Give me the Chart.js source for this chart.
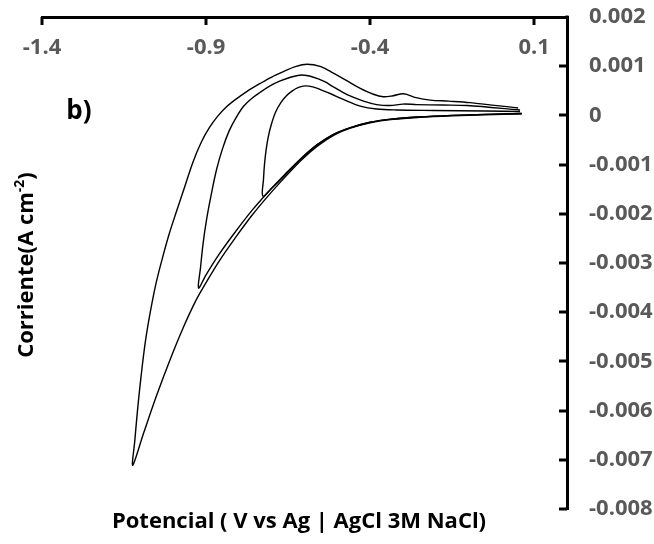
<!DOCTYPE html>
<html>
<head>
<meta charset="utf-8">
<title>Voltametría cíclica b)</title>
<script src="https://cdn.jsdelivr.net/npm/chart.js@4.4.0/dist/chart.umd.min.js"></script>
<style>
    html, body { margin: 0; padding: 0; background: #fff; }
    #chartBox { width: 654px; height: 544px; position: relative; }
</style>
</head>
<body>
<div id="chartBox"><canvas id="cvChart" width="654" height="544"></canvas></div>
<script>
/* =========================
   DATA
========================= */

const xTicks = [-1.4, -0.9, -0.4, 0.1];
const xTickLabels = ['-1.4', '-0.9', '-0.4', '0.1'];

const yTicks = [-0.008, -0.007, -0.006, -0.005, -0.004, -0.003, -0.002, -0.001, 0, 0.001, 0.002];
const yTickLabels = ['-0.008', '-0.007', '-0.006', '-0.005', '-0.004', '-0.003', '-0.002', '-0.001', '0', '0.001', '0.002'];

// ciclo 1 (inversión en -0.73 V)
const cycle1Potential = [0.062, -0.05, -0.15, -0.25, -0.33, -0.40, -0.46, -0.51, -0.56, -0.61, -0.66, -0.70, -0.727,
    -0.725, -0.722, -0.717, -0.71, -0.70, -0.688, -0.672, -0.655, -0.637, -0.618, -0.598, -0.575, -0.55, -0.52,
    -0.48, -0.43, -0.38, -0.32, -0.207, -0.05, 0.057];
const cycle1Current = [0.00004, 0.00002, 0, -0.00003, -0.00007, -0.00014, -0.00025, -0.00038, -0.00059, -0.00088, -0.00122, -0.00148, -0.00164,
    -0.0013, -0.001, -0.0007, -0.00042, -0.00016, 0.00007, 0.00026, 0.0004, 0.0005, 0.00057, 0.0006, 0.00058, 0.00052, 0.00044,
    0.00032, 0.00019, 0.00013, 0.00011, 0.0001, 0.00009, 0.00008];

// ciclo 2 (inversión en -0.92 V)
const cycle2Potential = [0.062, -0.05, -0.15, -0.25, -0.33, -0.40, -0.46, -0.51, -0.56, -0.61, -0.66, -0.71, -0.76, -0.81, -0.86, -0.90, -0.923,
    -0.917, -0.909, -0.898, -0.884, -0.868, -0.85, -0.83, -0.808, -0.785, -0.76, -0.735, -0.705, -0.674, -0.64, -0.608,
    -0.575, -0.54, -0.512, -0.47, -0.42, -0.38, -0.34, -0.30, -0.258, -0.18, -0.105, 0.057];
const cycle2Current = [0.00004, 0.00002, 0, -0.00003, -0.00007, -0.00014, -0.00025, -0.00038, -0.00059, -0.00087, -0.0012, -0.00155, -0.00193, -0.00236, -0.00282, -0.00324, -0.00351,
    -0.0031, -0.0026, -0.0021, -0.0016, -0.0011, -0.00068, -0.00032, -0.00004, 0.00019, 0.00035, 0.00047, 0.0006, 0.0007, 0.00078, 0.00082,
    0.00078, 0.00069, 0.00058, 0.00042, 0.00029, 0.00022, 0.0002, 0.00023, 0.00022, 0.00021, 0.0002, 0.00011];

// ciclo 3 (inversión en -1.12 V)
const cycle3Potential = [0.062, -0.05, -0.15, -0.25, -0.33, -0.40, -0.46, -0.51, -0.56, -0.61, -0.66, -0.71, -0.76, -0.81, -0.86, -0.90,
    -0.93, -0.97, -1.01, -1.05, -1.09, -1.1235,
    -1.117, -1.109, -1.098, -1.085, -1.07, -1.052, -1.033, -1.012, -0.99, -0.965, -0.94, -0.915, -0.89, -0.865,
    -0.84, -0.815, -0.775, -0.735, -0.70, -0.664, -0.628, -0.593, -0.55, -0.512, -0.47, -0.43, -0.39, -0.36,
    -0.33, -0.298, -0.26, -0.217, -0.16, -0.095, 0.051];
const cycle3Current = [0.00003, 0.00001, -0.00001, -0.00004, -0.00008, -0.00015, -0.00026, -0.0004, -0.00062, -0.00091, -0.00126, -0.00163, -0.00203, -0.00248, -0.00296, -0.0034,
    -0.00375, -0.00432, -0.00497, -0.00568, -0.00645, -0.00711,
    -0.0066, -0.006, -0.0053, -0.0046, -0.004, -0.0034, -0.0029, -0.0024, -0.00195, -0.00145, -0.00095, -0.00055, -0.00025, -0.00002,
    0.00016, 0.0003, 0.00049, 0.00065, 0.00078, 0.00089, 0.00099, 0.00104, 0.00099, 0.00086, 0.0007, 0.00055, 0.00043, 0.00038,
    0.0004, 0.00044, 0.00036, 0.00031, 0.00029, 0.00026, 0.00015];

const xTitle = 'Potencial ( V vs Ag | AgCl 3M NaCl)';
const yTitle = 'Corriente(A cm';
const yTitleSup = '-2';
const panelLabel = 'b)';

/* =========================
   HELPERS
========================= */

const FONT = '"Open Sans", "Liberation Sans", sans-serif';
const TICK_COLOR = '#595959';

function toPoints(xs, ys){
    return xs.map(function(x, i){
        return { x: x, y: ys[i] };
    });
}

function curve(xs, ys){
    return {
        data: toPoints(xs, ys),
        showLine: true,
        fill: false,
        borderColor: '#000',
        borderWidth: 1.4,
        pointRadius: 0,
        pointHoverRadius: 0,
        tension: 0.35
    };
}

/* =========================
   AXIS DECORATION
========================= */

const axisDecor = {
    id: 'axisDecor',
    afterDraw: function(chart){

        const ctx = chart.ctx;
        const area = chart.chartArea;
        const xs = chart.scales.x;
        const ys = chart.scales.y;

        ctx.save();

        // tick marks inside the plot
        ctx.strokeStyle = '#000';
        ctx.lineWidth = 3;
        ctx.lineCap = 'butt';

        xTicks.forEach(function(v){
            const px = Math.round(xs.getPixelForValue(v));
            ctx.beginPath();
            ctx.moveTo(px, area.top);
            ctx.lineTo(px, area.top + 8);
            ctx.stroke();
        });

        yTicks.forEach(function(v){
            if (v === 0.002) return;
            const py = Math.round(ys.getPixelForValue(v));
            ctx.beginPath();
            ctx.moveTo(area.right, py);
            ctx.lineTo(area.right - 8, py);
            ctx.stroke();
        });

        // close the corner
        ctx.fillStyle = '#000';
        ctx.fillRect(area.right - 1.5, area.top - 1.5, 3, 3);

        // x tick labels (under the top axis)
        ctx.fillStyle = TICK_COLOR;
        ctx.font = 'bold 22px ' + FONT;
        ctx.textAlign = 'center';
        ctx.textBaseline = 'middle';
        xTicks.forEach(function(v, i){
            ctx.fillText(xTickLabels[i], xs.getPixelForValue(v), area.top + 31);
        });

        // x title
        ctx.fillStyle = '#000';
        ctx.font = 'bold 22px ' + FONT;
        ctx.fillText(xTitle, 299, 522);

        // panel label
        ctx.font = 'bold 26px ' + FONT;
        ctx.fillText(panelLabel, 79, 112);

        // y title with superscript
        ctx.translate(33, (area.top + area.bottom) / 2 + 2);
        ctx.rotate(-Math.PI / 2);
        ctx.textAlign = 'left';
        ctx.textBaseline = 'alphabetic';

        const mainFont = 'bold 22px ' + FONT;
        const supFont = 'bold 14px ' + FONT;

        ctx.font = mainFont;
        const w1 = ctx.measureText(yTitle).width;
        const w3 = ctx.measureText(')').width;
        ctx.font = supFont;
        const w2 = ctx.measureText(yTitleSup).width;

        let start = -(w1 + w2 + w3) / 2;

        ctx.font = mainFont;
        ctx.fillText(yTitle, start, 0);
        ctx.font = supFont;
        ctx.fillText(yTitleSup, start + w1, -9);
        ctx.font = mainFont;
        ctx.fillText(')', start + w1 + w2, 0);

        ctx.restore();
    }
};

/* =========================
   CHART
========================= */

const cvCanvas = document.getElementById('cvChart');

new Chart(cvCanvas, {
    type: 'scatter',

    data: {
        datasets: [
            curve(cycle1Potential, cycle1Current),
            curve(cycle2Potential, cycle2Current),
            curve(cycle3Potential, cycle3Current)
        ]
    },

    options: {
        responsive: false,
        animation: false,
        devicePixelRatio: 1,

        layout: {
            padding: { left: 42, top: 17, right: 0, bottom: 35 }
        },

        plugins: {
            legend: { display: false },
            tooltip: { enabled: false },
            title: { display: false }
        },

        scales: {

            x: {
                type: 'linear',
                position: 'top',
                min: -1.4,
                max: 0.2,
                afterBuildTicks: function(scale){
                    scale.ticks = xTicks.map(function(v){ return { value: v }; });
                },
                afterFit: function(scale){
                    scale.height = 0;
                    scale.paddingLeft = 0;
                    scale.paddingRight = 0;
                },
                grid: {
                    display: false,
                    drawTicks: false,
                    tickLength: 0
                },
                border: {
                    display: true,
                    color: '#000',
                    width: 3
                },
                ticks: { display: false }
            },

            y: {
                type: 'linear',
                position: 'right',
                min: -0.008,
                max: 0.002,
                afterBuildTicks: function(scale){
                    scale.ticks = yTicks.map(function(v){ return { value: v }; });
                },
                afterFit: function(scale){
                    scale.width = 87;
                    scale.paddingTop = 0;
                    scale.paddingBottom = 0;
                },
                grid: {
                    display: false,
                    drawTicks: false,
                    tickLength: 0
                },
                border: {
                    display: true,
                    color: '#000',
                    width: 3
                },
                ticks: {
                    padding: 22,
                    color: TICK_COLOR,
                    font: { family: FONT, weight: 'bold', size: 22 },
                    callback: function(value){
                        const i = yTicks.indexOf(value);
                        return i >= 0 ? yTickLabels[i] : '';
                    }
                }
            }
        }
    },

    plugins: [axisDecor]
});
</script>
</body>
</html>
